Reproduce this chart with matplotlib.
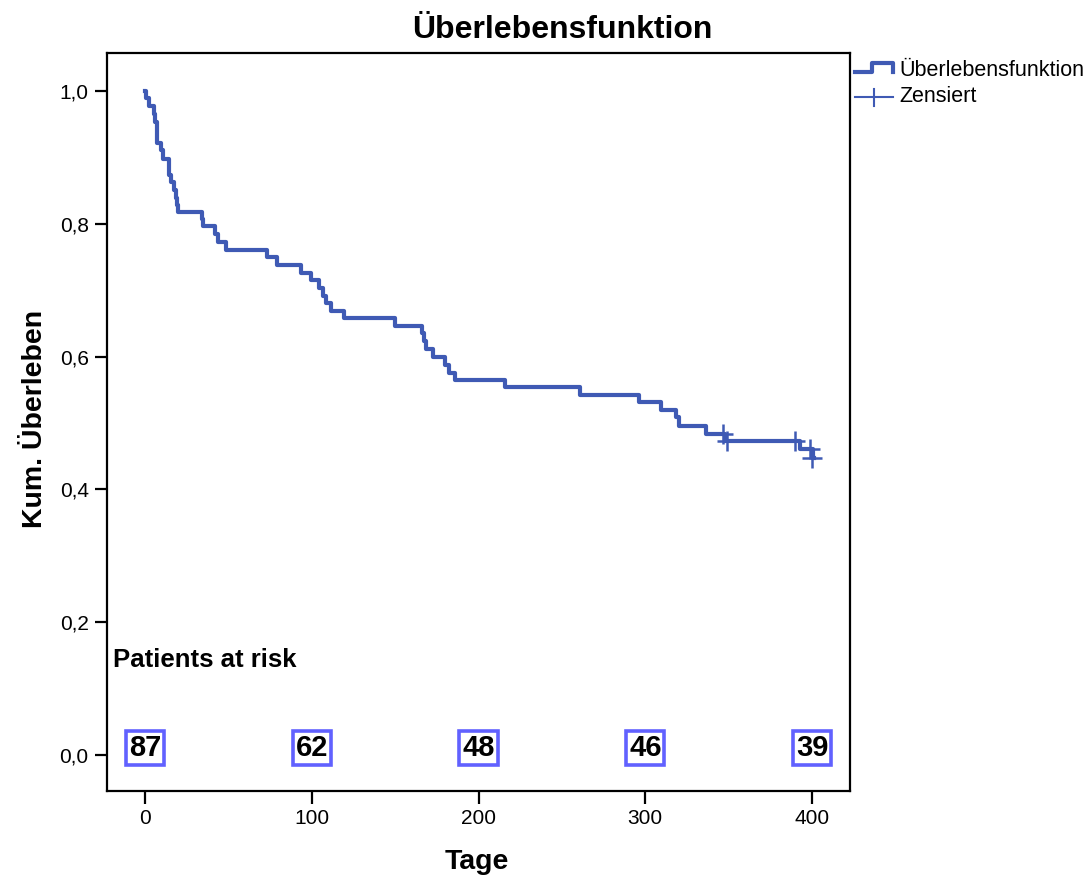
import numpy as np
import matplotlib.pyplot as plt
from matplotlib.lines import Line2D

plt.rcParams['font.family'] = ['Liberation Sans', 'DejaVu Sans']

# Kaplan-Meier steps (day of drop, survival after drop)
step_days = [0, 0.5, 2.6, 5.6, 6.0, 7.4, 9.6, 11.0, 14.4, 15.3, 17.4, 18.6, 19.3, 20.0,
             34.0, 34.5, 42.0, 44.0, 48.6, 73.0, 79.4, 93.6, 99.6, 104.6, 107.0,
             108.5, 111.3, 119.5, 150.0, 166.0, 167.5, 168.3, 172.5, 180.0, 182.3,
             186.0, 216.0, 261.0, 296.3, 309.3, 318.4, 320.3, 336.4, 347.8, 392.8,
             400.8, 401.5]
step_surv = [1.0, 0.989, 0.977, 0.966, 0.954, 0.921, 0.911, 0.897, 0.874, 0.863, 0.851,
             0.839, 0.828, 0.818, 0.807, 0.796, 0.784, 0.773, 0.761, 0.750, 0.738,
             0.726, 0.715, 0.704, 0.691, 0.680, 0.669, 0.658, 0.646, 0.635, 0.623,
             0.611, 0.600, 0.588, 0.576, 0.565, 0.554, 0.542, 0.531, 0.520, 0.509,
             0.496, 0.484, 0.473, 0.461, 0.447, 0.447]

# censored observations
cens_days = [346.8, 348.8, 389.8, 398.8, 400.0]
cens_surv = [0.484, 0.473, 0.473, 0.461, 0.447]

# patients at risk
risk_days = [0, 100, 200, 300, 400]
risk_n = [87, 62, 48, 46, 39]

curve_col = '#3f5ab4'
box_col = '#6161ff'

W, H = 1088, 882
fig = plt.figure(figsize=(W / 100, H / 100), dpi=100)
ax = fig.add_axes([106.7 / W, 1 - 790.7 / H, (850 - 106.7) / W, (790.7 - 53.3) / H])

ax.step(step_days, step_surv, where='post', color=curve_col, lw=3)
ax.plot(cens_days, cens_surv, ls='none', marker='+', ms=14, mew=1.8, color=curve_col)

ax.set_xlim(-23, 422.8)
ax.set_ylim(-0.0538, 1.0568)
ax.set_xticks([0, 100, 200, 300, 400])
ax.set_yticks([0, 0.2, 0.4, 0.6, 0.8, 1.0])
ax.set_yticklabels(['0,0', '0,2', '0,4', '0,6', '0,8', '1,0'])
ax.tick_params(labelsize=15, length=9, width=1.6, direction='out', pad=4)
for s in ax.spines.values():
    s.set_linewidth(1.6)

for d, n in zip(risk_days, risk_n):
    ax.text(d, 0.01, str(n), ha='center', va='center', fontsize=21, fontweight='bold',
            bbox=dict(boxstyle='square,pad=0.1', fc='white', ec=box_col, lw=2.6))

ax.text(-19.5, 0.143, 'Patients at risk', ha='left', va='center', fontsize=18.5,
        fontweight='bold')

fig.text(562 / W, 1 - 30 / H, 'Überlebensfunktion', ha='center', va='center',
         fontsize=23, fontweight='bold')
fig.text(35 / W, 1 - 419 / H, 'Kum. Überleben', ha='center', va='center',
         rotation=90, fontsize=20.5, fontweight='bold')
fig.text(477 / W, 1 - 862 / H, 'Tage', ha='center', va='center', fontsize=20.5,
         fontweight='bold')

# legend drawn by hand in pixel space
def px(x, y):
    return x / W, 1 - y / H

xs, ys = zip(*[px(855, 72), px(872, 72), px(872, 63), px(893, 63), px(893, 72)])
fig.add_artist(Line2D(xs, ys, color=curve_col, lw=3))
xs, ys = zip(*[px(855, 97), px(893, 97)])
fig.add_artist(Line2D(xs, ys, color=curve_col, lw=1.5))
xs, ys = zip(*[px(874, 89), px(874, 106)])
fig.add_artist(Line2D(xs, ys, color=curve_col, lw=1.5))
fig.text(899 / W, 1 - 70 / H, 'Überlebensfunktion', ha='left', va='center', fontsize=15.5)
fig.text(899 / W, 1 - 97 / H, 'Zensiert', ha='left', va='center', fontsize=15.5)

fig.savefig('out.png', dpi=100)
